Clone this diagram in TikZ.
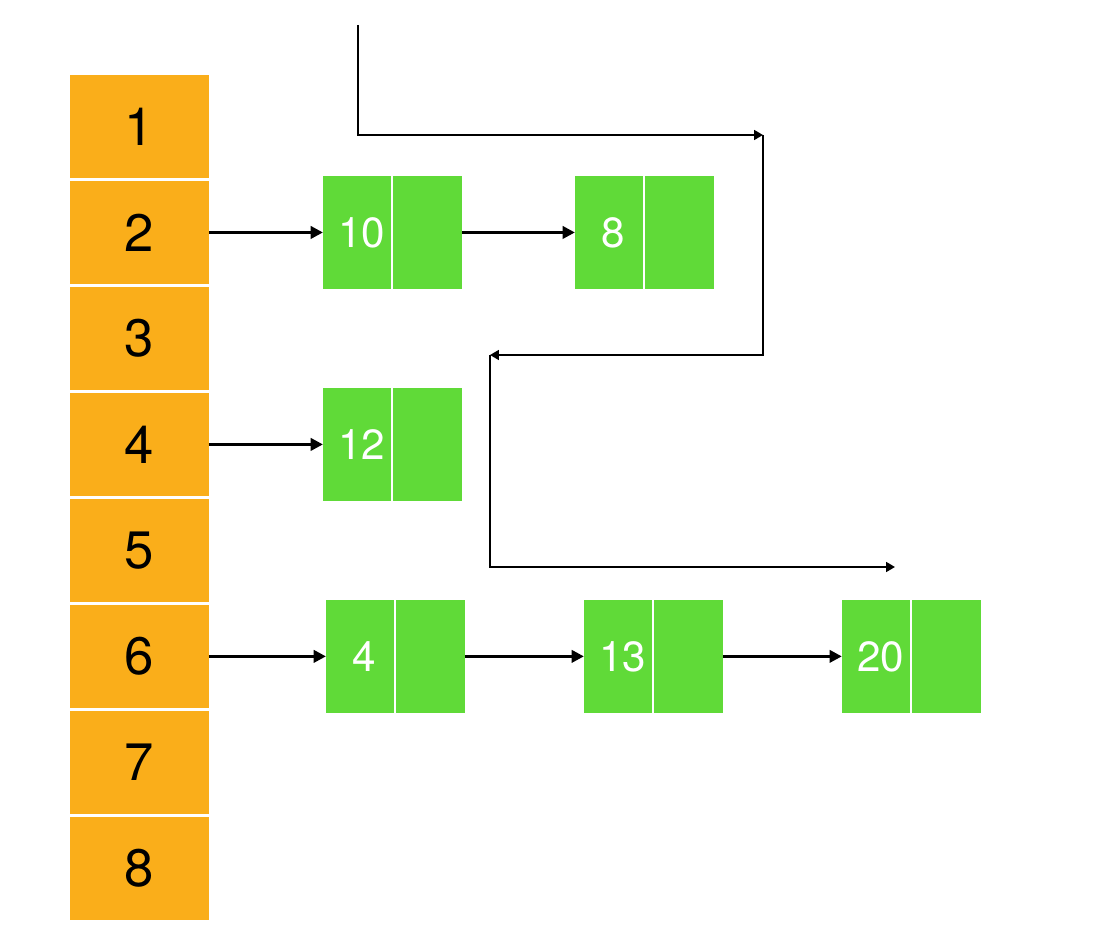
\documentclass[tikz,border=0pt]{standalone}
\usepackage{fontspec}
\setmainfont{TeX Gyre Heros}
\usetikzlibrary{arrows.meta, positioning, calc}
\definecolor{cellorange}{RGB}{250,174,26}
\definecolor{nodegreen}{RGB}{96,218,56}

\begin{document}
\begin{tikzpicture}[
    x=0.02cm, y=-0.02cm,
    cell/.style={fill=cellorange, minimum width=2.78cm, minimum height=2.06cm,
                 inner sep=0pt, outer sep=0pt, font=\fontsize{30}{36}\selectfont},
    item/.style={fill=nodegreen, minimum width=2.78cm, minimum height=2.26cm,
                 inner sep=0pt, outer sep=0pt},
    val/.style={text=white, inner sep=0pt, font=\fontsize{24}{28}\selectfont},
    arr/.style={-{Triangle[length=7pt, width=7pt]}, line width=1.7pt},
    wire/.style={-{Triangle[length=5pt, width=5.5pt]}, line width=1.2pt}
  ]
    \useasboundingbox (0,0) rectangle (1116,935);

    % hash table
    \node[cell, anchor=north west] (c1) at (70,75) {1};
    \foreach \i [remember=\i as \j (initially 1)] in {2,...,8}
      \node[cell, below=0.06cm of c\j] (c\i) {\i};

    % list nodes
    \node[item, right=2.28cm of c2] (n10) {};
    \node[item, right=2.26cm of n10] (n8) {};
    \node[item, right=2.28cm of c4] (n12) {};
    \node[item, right=2.34cm of c6] (n4) {};
    \node[item, right=2.38cm of n4] (n13) {};
    \node[item, right=2.38cm of n13] (n20) {};

    \foreach \n/\v in {n10/10, n8/8, n12/12, n4/4, n13/13, n20/20} {
      \draw[white, line width=1.2pt] (\n.north) -- (\n.south);
      \node[val] (v\v) at ([xshift=0.08cm]$(\n.west)!0.5!(\n.center)$) {\v};
    }

    \draw[arr] (c2.east) -- (n10.west);
    \draw[arr] (n10.east) -- (n8.west);
    \draw[arr] (c4.east) -- (n12.west);
    \draw[arr] (c6.east) -- (n4.west);
    \draw[arr] (n4.east) -- (n13.west);
    \draw[arr] (n13.east) -- (n20.west);

    % bent lines
    \coordinate (w0) at (358,25);
    \coordinate (w1) at (358,135);
    \coordinate (w2) at (763,135);
    \coordinate (w3) at (763,355);
    \coordinate (w4) at (490,355);
    \coordinate (w5) at (490,567);
    \coordinate (w6) at (895,567);
    \draw[wire] (w0) -- (w1) -- (w2);
    \draw[wire] (w2) -- (w3) -- (w4);
    \draw[wire] (w4) -- (w5) -- (w6);
  \end{tikzpicture}
\end{document}
